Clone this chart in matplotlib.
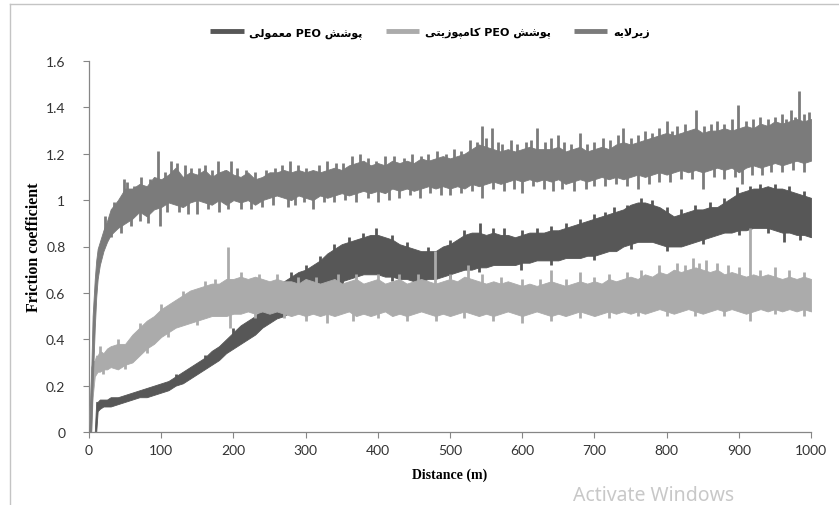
import numpy as np
import matplotlib
matplotlib.use('Agg')
import matplotlib.pyplot as plt
from matplotlib.lines import Line2D

# ---- data (friction coefficient vs. distance) ----
# distances where the band edges were read (m)
dist = np.concatenate([[0, 3, 5, 8, 10, 12, 15, 20, 25, 30], np.arange(40, 1001, 10)])

# substrate (زیرلایه)
sub_lo = [0, 0, 0.20, 0.45, 0.58, 0.66, 0.72, 0.78, 0.82, 0.85,
          0.88, 0.90, 0.92, 0.95, 0.93, 0.96, 0.97, 0.99, 0.98, 0.97,
          0.99, 1.00, 0.99, 0.98, 1.00, 0.98, 1.00, 0.99, 1.00, 0.98,
          1.00, 1.01, 1.02, 1.01, 1.00, 1.02, 1.01, 1.00, 1.02, 1.01,
          1.02, 1.03, 1.02, 1.03, 1.04, 1.03, 1.04, 1.03, 1.05, 1.04,
          1.05, 1.04, 1.05, 1.06, 1.05, 1.06, 1.05, 1.06, 1.05, 1.07,
          1.06, 1.07, 1.08, 1.07, 1.08, 1.09, 1.08, 1.09, 1.08, 1.09,
          1.08, 1.09, 1.07, 1.08, 1.09, 1.08, 1.09, 1.10, 1.09, 1.10,
          1.09, 1.10, 1.11, 1.10, 1.11, 1.12, 1.11, 1.12, 1.13, 1.12,
          1.13, 1.12, 1.13, 1.14, 1.13, 1.14, 1.12, 1.14, 1.15, 1.14,
          1.15, 1.16, 1.15, 1.16, 1.17, 1.16, 1.17]
sub_hi = [0, 0.25, 0.50, 0.66, 0.74, 0.79, 0.82, 0.87, 0.91, 0.96,
          1.00, 1.05, 1.05, 1.07, 1.06, 1.10, 1.09, 1.11, 1.14, 1.10,
          1.12, 1.11, 1.13, 1.10, 1.12, 1.13, 1.11, 1.10, 1.12, 1.09,
          1.10, 1.12, 1.12, 1.13, 1.12, 1.13, 1.12, 1.13, 1.12, 1.13,
          1.14, 1.13, 1.15, 1.16, 1.17, 1.15, 1.16, 1.15, 1.17, 1.16,
          1.17, 1.16, 1.18, 1.17, 1.18, 1.19, 1.18, 1.19, 1.20, 1.22,
          1.24, 1.23, 1.22, 1.21, 1.22, 1.21, 1.22, 1.23, 1.22, 1.22,
          1.22, 1.23, 1.21, 1.22, 1.23, 1.21, 1.22, 1.23, 1.22, 1.24,
          1.25, 1.24, 1.25, 1.26, 1.27, 1.28, 1.29, 1.28, 1.29, 1.30,
          1.31, 1.29, 1.30, 1.30, 1.31, 1.30, 1.31, 1.32, 1.31, 1.33,
          1.32, 1.34, 1.33, 1.34, 1.35, 1.34, 1.35]
sub_up = [(22, 0.93), (35, 0.99), (48, 1.09), (52, 1.08), (63, 1.06), (72, 1.10), (85, 1.09),
          (95, 1.21), (105, 1.12), (113, 1.17), (122, 1.16), (133, 1.15), (141, 1.14),
          (152, 1.14), (160, 1.15), (171, 1.13), (178, 1.17), (188, 1.13), (196, 1.17),
          (205, 1.14), (218, 1.13), (230, 1.12), (245, 1.13), (257, 1.14), (268, 1.15),
          (278, 1.17), (290, 1.15), (300, 1.14), (318, 1.15), (330, 1.17), (342, 1.16),
          (352, 1.16), (364, 1.19), (375, 1.20), (387, 1.18), (398, 1.17), (410, 1.19),
          (422, 1.19), (436, 1.18), (448, 1.20), (460, 1.19), (470, 1.20), (482, 1.21),
          (495, 1.20), (505, 1.22), (515, 1.21), (528, 1.26), (537, 1.25), (544, 1.32),
          (550, 1.27), (558, 1.31), (566, 1.25), (572, 1.24), (584, 1.26), (593, 1.24),
          (605, 1.25), (612, 1.26), (620, 1.31), (631, 1.25), (640, 1.27), (650, 1.28),
          (658, 1.25), (668, 1.24), (680, 1.29), (690, 1.24), (700, 1.25), (712, 1.27),
          (722, 1.26), (732, 1.28), (740, 1.31), (750, 1.27), (760, 1.28), (770, 1.30),
          (780, 1.29), (790, 1.31), (800, 1.34), (808, 1.30), (815, 1.32), (826, 1.33),
          (841, 1.39), (852, 1.32), (862, 1.33), (870, 1.34), (880, 1.33), (890, 1.35),
          (899, 1.41), (910, 1.34), (920, 1.35), (930, 1.36), (940, 1.35), (950, 1.36),
          (960, 1.37), (966, 1.35), (972, 1.39), (978, 1.36), (983, 1.47), (990, 1.37),
          (997, 1.38)]
sub_down = [(30, 0.84), (45, 0.86), (58, 0.89), (70, 0.91), (82, 0.90), (98, 0.89),
            (108, 0.95), (125, 0.95), (137, 0.94), (150, 0.94), (165, 0.96), (180, 0.95),
            (192, 0.96), (210, 0.96), (225, 0.96), (240, 0.97), (255, 0.98), (275, 0.97),
            (285, 0.98), (298, 0.99), (310, 0.96), (325, 0.99), (340, 0.99), (355, 1.00),
            (370, 0.99), (386, 1.01), (400, 0.99), (415, 1.00), (430, 1.01), (445, 1.02),
            (458, 1.01), (472, 1.03), (488, 1.02), (500, 1.02), (515, 1.03), (530, 1.04),
            (544, 1.01), (560, 1.05), (575, 1.04), (588, 1.05), (600, 1.03), (615, 1.06),
            (630, 1.05), (643, 1.04), (655, 1.05), (672, 1.04), (688, 1.05), (700, 1.06),
            (715, 1.06), (730, 1.07), (745, 1.06), (760, 1.05), (775, 1.07), (790, 1.08),
            (805, 1.08), (820, 1.09), (835, 1.09), (850, 1.05), (865, 1.10), (880, 1.09),
            (895, 1.10), (905, 1.07), (918, 1.11), (932, 1.11), (945, 1.12), (960, 1.12),
            (975, 1.13), (990, 1.12)]

# ordinary PEO coating (پوشش PEO معمولی)
ord_lo = [0, 0, 0, 0, 0, 0.09, 0.10, 0.11, 0.11, 0.11,
          0.12, 0.13, 0.14, 0.15, 0.15, 0.16, 0.17, 0.18, 0.20, 0.21,
          0.23, 0.25, 0.27, 0.29, 0.31, 0.34, 0.36, 0.38, 0.40, 0.42,
          0.45, 0.47, 0.49, 0.50, 0.52, 0.55, 0.57, 0.58, 0.60, 0.62,
          0.64, 0.65, 0.66, 0.67, 0.68, 0.68, 0.68, 0.67, 0.67, 0.66,
          0.66, 0.65, 0.65, 0.66, 0.66, 0.67, 0.68, 0.69, 0.70, 0.70,
          0.71, 0.71, 0.72, 0.72, 0.72, 0.72, 0.73, 0.73, 0.74, 0.74,
          0.74, 0.74, 0.75, 0.75, 0.75, 0.76, 0.76, 0.77, 0.78, 0.78,
          0.80, 0.81, 0.82, 0.82, 0.82, 0.81, 0.80, 0.80, 0.80, 0.81,
          0.82, 0.83, 0.84, 0.85, 0.86, 0.86, 0.87, 0.87, 0.88, 0.88,
          0.88, 0.87, 0.86, 0.86, 0.85, 0.85, 0.84]
ord_hi = [0, 0, 0, 0, 0.13, 0.13, 0.14, 0.14, 0.14, 0.15,
          0.15, 0.16, 0.17, 0.18, 0.19, 0.20, 0.21, 0.22, 0.24, 0.26,
          0.28, 0.30, 0.32, 0.35, 0.37, 0.40, 0.43, 0.46, 0.48, 0.50,
          0.53, 0.57, 0.62, 0.65, 0.67, 0.69, 0.70, 0.72, 0.74, 0.77,
          0.79, 0.81, 0.82, 0.83, 0.84, 0.85, 0.85, 0.84, 0.83, 0.81,
          0.80, 0.79, 0.78, 0.78, 0.78, 0.80, 0.81, 0.83, 0.85, 0.86,
          0.86, 0.85, 0.86, 0.85, 0.85, 0.84, 0.85, 0.86, 0.86, 0.86,
          0.87, 0.87, 0.88, 0.89, 0.90, 0.91, 0.92, 0.93, 0.94, 0.95,
          0.96, 0.98, 0.99, 0.99, 0.98, 0.97, 0.95, 0.93, 0.94, 0.95,
          0.96, 0.96, 0.97, 0.97, 0.99, 1.01, 1.03, 1.04, 1.05, 1.05,
          1.06, 1.05, 1.05, 1.04, 1.03, 1.02, 1.01]
ord_up = [(120, 0.25), (160, 0.33), (200, 0.45), (240, 0.55), (280, 0.69), (300, 0.72),
          (320, 0.76), (340, 0.81), (360, 0.84), (380, 0.86), (398, 0.88), (420, 0.85),
          (440, 0.82), (470, 0.80), (500, 0.83), (520, 0.87), (541, 0.90), (560, 0.88),
          (575, 0.88), (600, 0.87), (620, 0.88), (640, 0.89), (660, 0.90), (680, 0.92),
          (700, 0.94), (715, 0.95), (727, 0.97), (745, 0.98), (765, 1.01), (780, 1.00),
          (800, 0.97), (820, 0.96), (840, 0.98), (860, 0.99), (880, 1.01), (897, 1.055),
          (915, 1.06), (930, 1.07), (950, 1.07), (970, 1.06), (990, 1.04)]
ord_down = [(300, 0.55), (350, 0.63), (420, 0.65), (460, 0.63), (500, 0.66), (540, 0.69),
            (598, 0.70), (640, 0.72), (700, 0.74), (750, 0.79), (800, 0.78), (850, 0.81),
            (900, 0.85), (940, 0.86), (962, 0.82), (985, 0.83)]

# composite PEO coating (پوشش PEO کامپوزیتی)
comp_lo = [0, 0, 0.15, 0.24, 0.25, 0.26, 0.26, 0.27, 0.27, 0.28,
           0.27, 0.29, 0.30, 0.33, 0.36, 0.38, 0.41, 0.43, 0.45, 0.46,
           0.47, 0.48, 0.49, 0.50, 0.50, 0.50, 0.51, 0.51, 0.52, 0.51,
           0.52, 0.51, 0.52, 0.51, 0.50, 0.51, 0.50, 0.51, 0.50, 0.51,
           0.50, 0.51, 0.52, 0.50, 0.51, 0.50, 0.51, 0.52, 0.50, 0.51,
           0.50, 0.51, 0.52, 0.51, 0.50, 0.51, 0.50, 0.51, 0.52, 0.51,
           0.50, 0.51, 0.50, 0.51, 0.52, 0.51, 0.50, 0.51, 0.52, 0.51,
           0.50, 0.51, 0.50, 0.51, 0.52, 0.51, 0.50, 0.51, 0.52, 0.51,
           0.52, 0.51, 0.52, 0.51, 0.52, 0.53, 0.52, 0.51, 0.52, 0.53,
           0.52, 0.51, 0.52, 0.53, 0.52, 0.53, 0.52, 0.51, 0.52, 0.53,
           0.52, 0.53, 0.52, 0.53, 0.52, 0.53, 0.52]
comp_hi = [0, 0.28, 0.30, 0.31, 0.33, 0.33, 0.35, 0.34, 0.36, 0.37,
           0.38, 0.38, 0.42, 0.45, 0.48, 0.50, 0.53, 0.55, 0.57, 0.59,
           0.61, 0.62, 0.63, 0.64, 0.64, 0.66, 0.66, 0.67, 0.66, 0.67,
           0.66, 0.65, 0.66, 0.65, 0.65, 0.64, 0.66, 0.65, 0.64, 0.65,
           0.66, 0.64, 0.65, 0.66, 0.64, 0.65, 0.66, 0.64, 0.65, 0.66,
           0.64, 0.65, 0.66, 0.65, 0.64, 0.65, 0.66, 0.65, 0.67, 0.66,
           0.65, 0.64, 0.65, 0.64, 0.65, 0.64, 0.63, 0.64, 0.63, 0.64,
           0.65, 0.64, 0.63, 0.64, 0.65, 0.64, 0.65, 0.64, 0.66, 0.65,
           0.66, 0.67, 0.66, 0.68, 0.67, 0.69, 0.68, 0.70, 0.69, 0.70,
           0.71, 0.70, 0.69, 0.70, 0.68, 0.69, 0.68, 0.67, 0.68, 0.67,
           0.68, 0.67, 0.66, 0.67, 0.66, 0.67, 0.66]
comp_up = [(15, 0.37), (40, 0.40), (70, 0.47), (100, 0.55), (130, 0.61), (160, 0.65),
           (175, 0.66), (192, 0.80), (210, 0.69), (235, 0.68), (260, 0.68), (290, 0.67),
           (315, 0.67), (345, 0.68), (370, 0.68), (400, 0.68), (430, 0.68), (455, 0.68),
           (479, 0.78), (500, 0.68), (525, 0.72), (545, 0.68), (570, 0.67), (600, 0.66),
           (625, 0.66), (640, 0.70), (660, 0.66), (680, 0.69), (700, 0.67), (720, 0.68),
           (745, 0.69), (765, 0.70), (790, 0.72), (815, 0.73), (825, 0.72), (836, 0.75),
           (845, 0.73), (855, 0.74), (870, 0.73), (885, 0.72), (900, 0.71), (915, 0.88),
           (930, 0.70), (950, 0.71), (970, 0.70), (990, 0.69)]
comp_down = [(20, 0.25), (50, 0.27), (80, 0.34), (110, 0.41), (150, 0.46), (195, 0.45),
             (230, 0.49), (270, 0.49), (300, 0.48), (330, 0.47), (365, 0.48), (400, 0.49),
             (440, 0.48), (480, 0.48), (520, 0.49), (560, 0.48), (600, 0.47), (640, 0.48),
             (680, 0.49), (720, 0.49), (760, 0.50), (800, 0.50), (840, 0.50), (880, 0.50),
             (915, 0.48), (950, 0.51), (990, 0.50)]

labels = ['پوشش PEO معمولی', 'پوشش PEO کامپوزیتی', 'زیرلایه']
colors = ['#575757', '#ababab', '#7b7b7b']
yticks = [0, 0.2, 0.4, 0.6, 0.8, 1, 1.2, 1.4, 1.6]
xticks = [0, 100, 200, 300, 400, 500, 600, 700, 800, 900, 1000]

# ---- minimal Persian shaping (matplotlib has no bidi / joining) ----
FORMS = {  # isolated, final, initial, medial
    'پ': ('\uFB56', '\uFB57', '\uFB58', '\uFB59'),
    'و': ('\uFEED', '\uFEEE', None, None),
    'ش': ('\uFEB5', '\uFEB6', '\uFEB7', '\uFEB8'),
    'م': ('\uFEE1', '\uFEE2', '\uFEE3', '\uFEE4'),
    'ع': ('\uFEC9', '\uFECA', '\uFECB', '\uFECC'),
    'ل': ('\uFEDD', '\uFEDE', '\uFEDF', '\uFEE0'),
    'ی': ('\uFBFC', '\uFBFD', '\uFBFE', '\uFBFF'),
    'ک': ('\uFB8E', '\uFB8F', '\uFB90', '\uFB91'),
    'ا': ('\uFE8D', '\uFE8E', None, None),
    'ز': ('\uFEAF', '\uFEB0', None, None),
    'ت': ('\uFE95', '\uFE96', '\uFE97', '\uFE98'),
    'ر': ('\uFEAD', '\uFEAE', None, None),
    'ه': ('\uFEE9', '\uFEEA', '\uFEEB', '\uFEEC'),
}


def shape_word(w):
    if w[0] not in FORMS:
        return w
    out = []
    i = 0
    while i < len(w):
        c = w[i]
        prev_joins = i > 0 and FORMS[w[i - 1]][2] is not None
        if c == 'ل' and i + 1 < len(w) and w[i + 1] == 'ا':
            out.append('\uFEFC' if prev_joins else '\uFEFB')
            i += 2
            continue
        next_joins = i + 1 < len(w) and FORMS[c][2] is not None
        f = FORMS[c]
        if prev_joins and next_joins:
            out.append(f[3])
        elif prev_joins:
            out.append(f[1])
        elif next_joins:
            out.append(f[2])
        else:
            out.append(f[0])
        i += 1
    return ''.join(reversed(out))


def rtl(text):
    return ' '.join(shape_word(w) for w in reversed(text.split(' ')))


# ---- figure ----
fig = plt.figure(figsize=(8.39, 5.06), dpi=100)
ax = fig.add_axes([89 / 839, 1 - 433 / 506, 722 / 839, 371 / 506])

series = [
    (ord_lo, ord_hi, ord_up, ord_down),
    (comp_lo, comp_hi, comp_up, comp_down),
    (sub_lo, sub_hi, sub_up, sub_down),
]
for z, ((lo, hi, up, down), col) in enumerate(zip(series, colors)):
    lo = np.array(lo)
    hi = np.array(hi)
    ax.fill_between(dist, lo, hi, color=col, lw=0.6, edgecolor=col, zorder=2 + z)
    mid = (lo + hi) / 2
    for d, v in up + down:
        ax.vlines(d, np.interp(d, dist, mid), v, color=col, lw=2.0, zorder=2 + z)

ax.set_xlim(0, 1000)
ax.set_ylim(0, 1.6)
ax.set_xticks(xticks)
ax.set_yticks(yticks)
ax.set_yticklabels([f'{t:g}' for t in yticks])
for s in ['top', 'right']:
    ax.spines[s].set_visible(False)
for s in ['left', 'bottom']:
    ax.spines[s].set_color('#868686')
    ax.spines[s].set_linewidth(0.9)
ax.tick_params(axis='both', direction='out', length=4, color='#868686',
               labelsize=10, labelcolor='#333333')
ax.tick_params(axis='y', pad=13)
ax.tick_params(axis='x', pad=5)
for lab in ax.get_xticklabels() + ax.get_yticklabels():
    lab.set_family('Lato')

ax.set_xlabel('Distance (m)', family='Liberation Serif', fontweight='bold', fontsize=10, labelpad=8)
ax.set_ylabel('Friction coefficient', family='Liberation Serif', fontweight='bold', fontsize=11.5, labelpad=3)

handles = [Line2D([], [], color=c, lw=3.5, solid_capstyle='butt') for c in colors]
fig.legend(handles, [rtl(t) for t in labels], ncol=3, loc='center',
           bbox_to_anchor=(430 / 839, 1 - 33 / 506), frameon=False,
           prop={'family': 'DejaVu Sans', 'weight': 'bold', 'size': 8},
           handlelength=3.0, handletextpad=0.5, columnspacing=2.1)

# outer chart frame (top and left visible in the screenshot)
fig.add_artist(Line2D([10 / 839, 1], [1 - 5 / 506, 1 - 5 / 506], transform=fig.transFigure,
                      color='#c4c4c4', lw=1))
fig.add_artist(Line2D([10 / 839, 10 / 839], [0, 1 - 5 / 506], transform=fig.transFigure,
                      color='#c4c4c4', lw=1))

fig.text(573 / 839, 1 - 486 / 506, 'Activate Windows', color='#c8c8c8', fontsize=14,
         family='Noto Sans', va='top', ha='left')

fig.savefig('out.png', dpi=100)
